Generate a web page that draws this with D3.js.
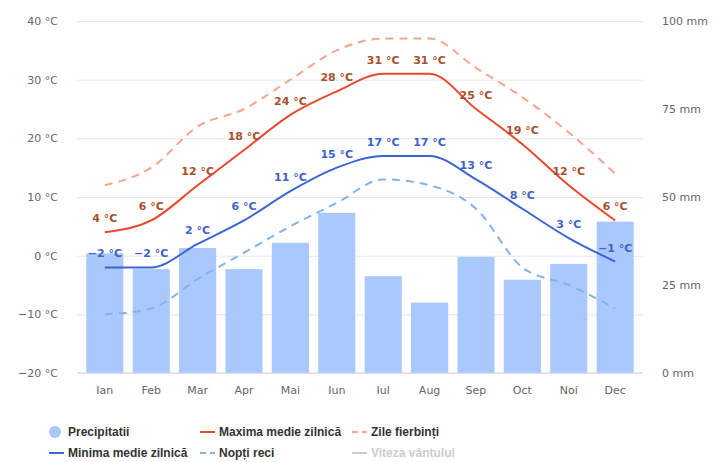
<!DOCTYPE html>
<html>
<head>
<meta charset="utf-8">
<script src="https://cdn.jsdelivr.net/npm/d3@7"></script>
<style>
  body { margin: 0; background: #fff; }
  text { font-family: "DejaVu Sans", sans-serif; }
</style>
</head>
<body>
<div id="chart"></div>
<script>
const months = ["Ian", "Feb", "Mar", "Apr", "Mai", "Iun", "Iul", "Aug", "Sep", "Oct", "Noi", "Dec"];
const precip = [34, 29.5, 35.5, 29.5, 37, 45.5, 27.5, 20, 33, 26.5, 31, 43];
const tMax = [4, 6, 12, 18, 24, 28, 31, 31, 25, 19, 12, 6];
const tMin = [-2, -2, 2, 6, 11, 15, 17, 17, 13, 8, 3, -1];
const hotDays = [12, 15, 22, 25, 30, 35, 37, 37, 32, 27, 21, 14];
const coldNights = [-10, -9, -4, 0.5, 5, 9, 13, 12, 8, -2, -5, -9];
const tempTicks = [-20, -10, 0, 10, 20, 30, 40];
const mmTicks = [0, 25, 50, 75, 100];

const width = 715, height = 462;
const margin = { top: 21, right: 72, bottom: 89, left: 77 };
const innerW = width - margin.left - margin.right;
const innerH = height - margin.top - margin.bottom;

const svg = d3.select("#chart").append("svg")
    .attr("width", width)
    .attr("height", height);

const g = svg.append("g")
    .attr("transform", `translate(${margin.left},${margin.top})`);

const x = d3.scaleBand().domain(months).range([0, innerW]).padding(0.2);
const xc = m => x(m) + x.bandwidth() / 2;
const yT = d3.scaleLinear().domain([-20, 40]).range([innerH, 0]);
const yP = d3.scaleLinear().domain([0, 100]).range([innerH, 0]);

// grid
g.append("g")
    .call(d3.axisLeft(yT).tickValues(tempTicks).tickSize(-innerW).tickFormat(""))
    .call(s => s.select(".domain").remove())
    .selectAll("line").attr("stroke", "#e6e6e6");

// bare
g.selectAll(".bar")
    .data(months)
    .join("rect")
    .attr("x", m => x(m))
    .attr("width", x.bandwidth())
    .attr("y", (m, i) => yP(precip[i]))
    .attr("height", (m, i) => innerH - yP(precip[i]))
    .attr("fill", "#a9c8fb");

g.append("line")
    .attr("x1", 0).attr("x2", innerW)
    .attr("y1", innerH).attr("y2", innerH)
    .attr("stroke", "#ccd6eb");

const line = vals => d3.line()
    .x((m, i) => xc(m))
    .y((m, i) => yT(vals[i]))
    .curve(d3.curveMonotoneX)(months);

g.append("path").attr("d", line(hotDays))
    .attr("fill", "none").attr("stroke", "#f7a492").attr("stroke-width", 2)
    .attr("stroke-dasharray", "8,6");
g.append("path").attr("d", line(coldNights))
    .attr("fill", "none").attr("stroke", "#84b3e6").attr("stroke-width", 2)
    .attr("stroke-dasharray", "8,6");
g.append("path").attr("d", line(tMax))
    .attr("fill", "none").attr("stroke", "#e8482c").attr("stroke-width", 2);
g.append("path").attr("d", line(tMin))
    .attr("fill", "none").attr("stroke", "#3b64d4").attr("stroke-width", 2);

// etichete
function labels(vals, color) {
    g.append("g").selectAll("text")
        .data(months)
        .join("text")
        .attr("x", m => xc(m))
        .attr("y", (m, i) => yT(vals[i]) - 10)
        .attr("text-anchor", "middle")
        .attr("font-size", "11px")
        .attr("font-weight", "bold")
        .attr("fill", color)
        .text((m, i) => `${vals[i]} °C`.replace("-", "−"));
}
labels(tMax, "#a9512e");
labels(tMin, "#3f63c8");

// axe
const axL = g.append("g")
    .call(d3.axisLeft(yT).tickValues(tempTicks).tickSize(0).tickPadding(19)
        .tickFormat(d => `${d} °C`.replace("-", "−")));
const axR = g.append("g")
    .attr("transform", `translate(${innerW},0)`)
    .call(d3.axisRight(yP).tickValues(mmTicks).tickSize(0).tickPadding(19)
        .tickFormat(d => `${d} mm`));
const axB = g.append("g")
    .attr("transform", `translate(0,${innerH})`)
    .call(d3.axisBottom(x).tickSize(0).tickPadding(13));
[axL, axR, axB].forEach(a => {
    a.select(".domain").remove();
    a.selectAll("text").attr("fill", "#666").attr("font-size", "11px")
        .style("font-family", "DejaVu Sans, sans-serif");
});

// legenda
const legendItems = [
    { name: "Precipitatii", type: "circle", color: "#a9c8fb", x: 55, y: 432 },
    { name: "Maxima medie zilnică", type: "line", color: "#e8482c", x: 200, y: 432 },
    { name: "Zile fierbinți", type: "dash", color: "#f7a492", x: 352, y: 432 },
    { name: "Minima medie zilnică", type: "line", color: "#3b64d4", x: 49, y: 453 },
    { name: "Nopți reci", type: "dash", color: "#84b3e6", x: 200, y: 453 },
    { name: "Viteza vântului", type: "line", color: "#cccccc", x: 352, y: 453, off: true }
];
const lg = svg.append("g").selectAll("g")
    .data(legendItems)
    .join("g")
    .attr("transform", d => `translate(${d.x},${d.y})`);
lg.filter(d => d.type === "circle").append("circle")
    .attr("cx", 0).attr("cy", 0).attr("r", 6).attr("fill", d => d.color);
lg.filter(d => d.type !== "circle").append("line")
    .attr("x1", 0).attr("x2", 15).attr("y1", 0).attr("y2", 0)
    .attr("stroke", d => d.color).attr("stroke-width", 2)
    .attr("stroke-dasharray", d => d.type === "dash" ? "6,4" : null);
lg.append("text")
    .attr("x", d => d.type === "circle" ? 13 : 19)
    .attr("y", 4)
    .attr("font-size", "12px")
    .attr("font-weight", "bold")
    .style("font-family", "'Liberation Sans', Arial, sans-serif")
    .attr("fill", d => d.off ? "#cccccc" : "#333")
    .text(d => d.name);
</script>
</body>
</html>
